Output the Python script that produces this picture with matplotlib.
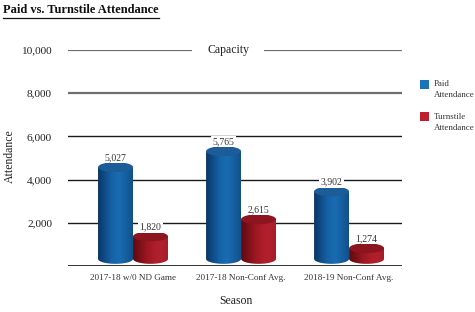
import numpy as np
import matplotlib
matplotlib.use("Agg")
import matplotlib.pyplot as plt
from matplotlib.patches import Ellipse, PathPatch, Rectangle
from matplotlib.path import Path
from matplotlib.colors import LinearSegmentedColormap
from matplotlib.lines import Line2D

categories = ["2017-18 w/0 ND Game", "2017-18 Non-Conf Avg.", "2018-19 Non-Conf Avg."]
paid = [5027, 5765, 3902]
turnstile = [1820, 2615, 1274]
yticks = [2000, 4000, 6000, 8000, 10000]
capacity = 10000
series_names = ["Paid\nAttendance", "Turnstile\nAttendance"]

plt.rcParams['font.family'] = ['Liberation Serif', 'DejaVu Serif']

W, H = 475, 312
fig = plt.figure(figsize=(W / 100, H / 100), dpi=100)
ax = fig.add_axes([68 / W, (H - 266) / H, (402 - 68) / W, (266 - 50) / H])

x = np.arange(len(categories))
bw = 0.324
ell_h = 460      # ellipse height in data units (3D look)
top_drop = 450   # perspective drop of cylinder tops
bot_lift = 330   # bottom ellipse centre above baseline

blue_cmap = LinearSegmentedColormap.from_list(
    "b", ["#0a3764", "#0f4d88", "#1563a6", "#1a6cb2", "#1660a0", "#11518a"])
red_cmap = LinearSegmentedColormap.from_list(
    "r", ["#5e0a10", "#7d1018", "#9a1722", "#ac1d2a", "#b2202d", "#a81c28"])
blue_top = "#1b5c99"
red_top = "#8c1520"

grad = np.linspace(0, 1, 200).reshape(1, -1)


def cylinder(xc, value, cmap, topcol):
    x0, x1 = xc - bw / 2, xc + bw / 2
    ytop = value - top_drop
    ybot = bot_lift
    t = np.linspace(np.pi, 2 * np.pi, 60)
    arc_x = xc + (bw / 2) * np.cos(t)
    arc_y = ybot + (ell_h / 2) * np.sin(t)
    verts = [(x0, ytop)] + list(zip(arc_x, arc_y)) + [(x1, ytop), (x0, ytop)]
    codes = [Path.MOVETO] + [Path.LINETO] * (len(verts) - 2) + [Path.CLOSEPOLY]
    body = PathPatch(Path(verts, codes), facecolor="none", edgecolor="none")
    ax.add_patch(body)
    im = ax.imshow(grad, cmap=cmap, aspect="auto",
                   extent=(x0, x1, ybot - ell_h / 2, ytop), zorder=3)
    im.set_clip_path(body)
    ax.add_patch(Ellipse((xc, ytop), bw, ell_h, facecolor=topcol,
                         edgecolor="none", zorder=4))


# gridlines (back wall)
ax.axhline(0, color="#111111", lw=1.2, zorder=1)
for v in yticks:
    if v >= 8000:
        ax.axhline(v, color="#6e6e6e", lw=1.6, zorder=1)
    else:
        ax.axhline(v, color="#1a1a1a", lw=1.0, zorder=1)

for i in range(len(categories)):
    cylinder(x[i] - bw / 2, paid[i], blue_cmap, blue_top)
    cylinder(x[i] + bw / 2, turnstile[i], red_cmap, red_top)
    for xc, v in ((x[i] - bw / 2, paid[i]), (x[i] + bw / 2, turnstile[i])):
        ax.text(xc, v, f"{v:,}", ha="center", va="center", fontsize=7,
                color="#333333", zorder=5,
                bbox=dict(facecolor="white", edgecolor="none", pad=1.0))

# Capacity label with white gap in the line
cap_x = 0.88
ax.add_patch(Rectangle((cap_x - 0.33, capacity - 280), 0.66, 560,
                       facecolor="white", edgecolor="none", zorder=2))
ax.text(cap_x, capacity, "Capacity", ha="center", va="center", fontsize=8.5,
        color="#222222", zorder=5)

ax.set_xlim(-0.602, 2.49)
ax.set_ylim(0, 10000)
ax.set_yticks(yticks)
ax.set_yticklabels([f"{v:,}" for v in yticks], fontsize=8.2, color="#222222")
ax.set_xticks(x)
ax.set_xticklabels(categories, fontsize=6.6, color="#333333")
ax.tick_params(axis="both", length=0)
ax.tick_params(axis="y", pad=11.5)
ax.tick_params(axis="x", pad=5.5)
for s in ax.spines.values():
    s.set_visible(False)
ax.set_facecolor("none")

fig.text(236 / W, 1 - 301 / H, "Season", ha="center", va="center",
         fontsize=8.5, color="#222222")
fig.text(10 / W, 1 - 156 / H, "Attendance", ha="center", va="center",
         rotation=90, fontsize=8.5, color="#222222")

title = fig.text(3 / W, 1 - 10 / H, "Paid vs. Turnstile Attendance",
                 ha="left", va="center", fontsize=9, fontweight="bold",
                 color="#111111")

# legend
leg_cols = ["#1a74bb", "#c01e2e"]
leg_y = [84, 117]
for name, col, yy in zip(series_names, leg_cols, leg_y):
    fig.patches.append(Rectangle(((420) / W, 1 - (yy + 4.5) / H), 9 / W, 9 / H,
                                 transform=fig.transFigure, facecolor=col,
                                 edgecolor="none"))
    fig.text(434 / W, 1 - (yy - 4.5) / H, name, ha="left", va="top",
             fontsize=6.4, color="#333333", linespacing=1.55)

fig.canvas.draw()
bb = title.get_window_extent(fig.canvas.get_renderer())
yline = bb.y0 - 1.5
fig.add_artist(Line2D([bb.x0 / W, bb.x1 / W], [yline / H, yline / H],
                      transform=fig.transFigure, color="#111111", lw=0.9))

fig.savefig("out.png", dpi=100, facecolor="white")
